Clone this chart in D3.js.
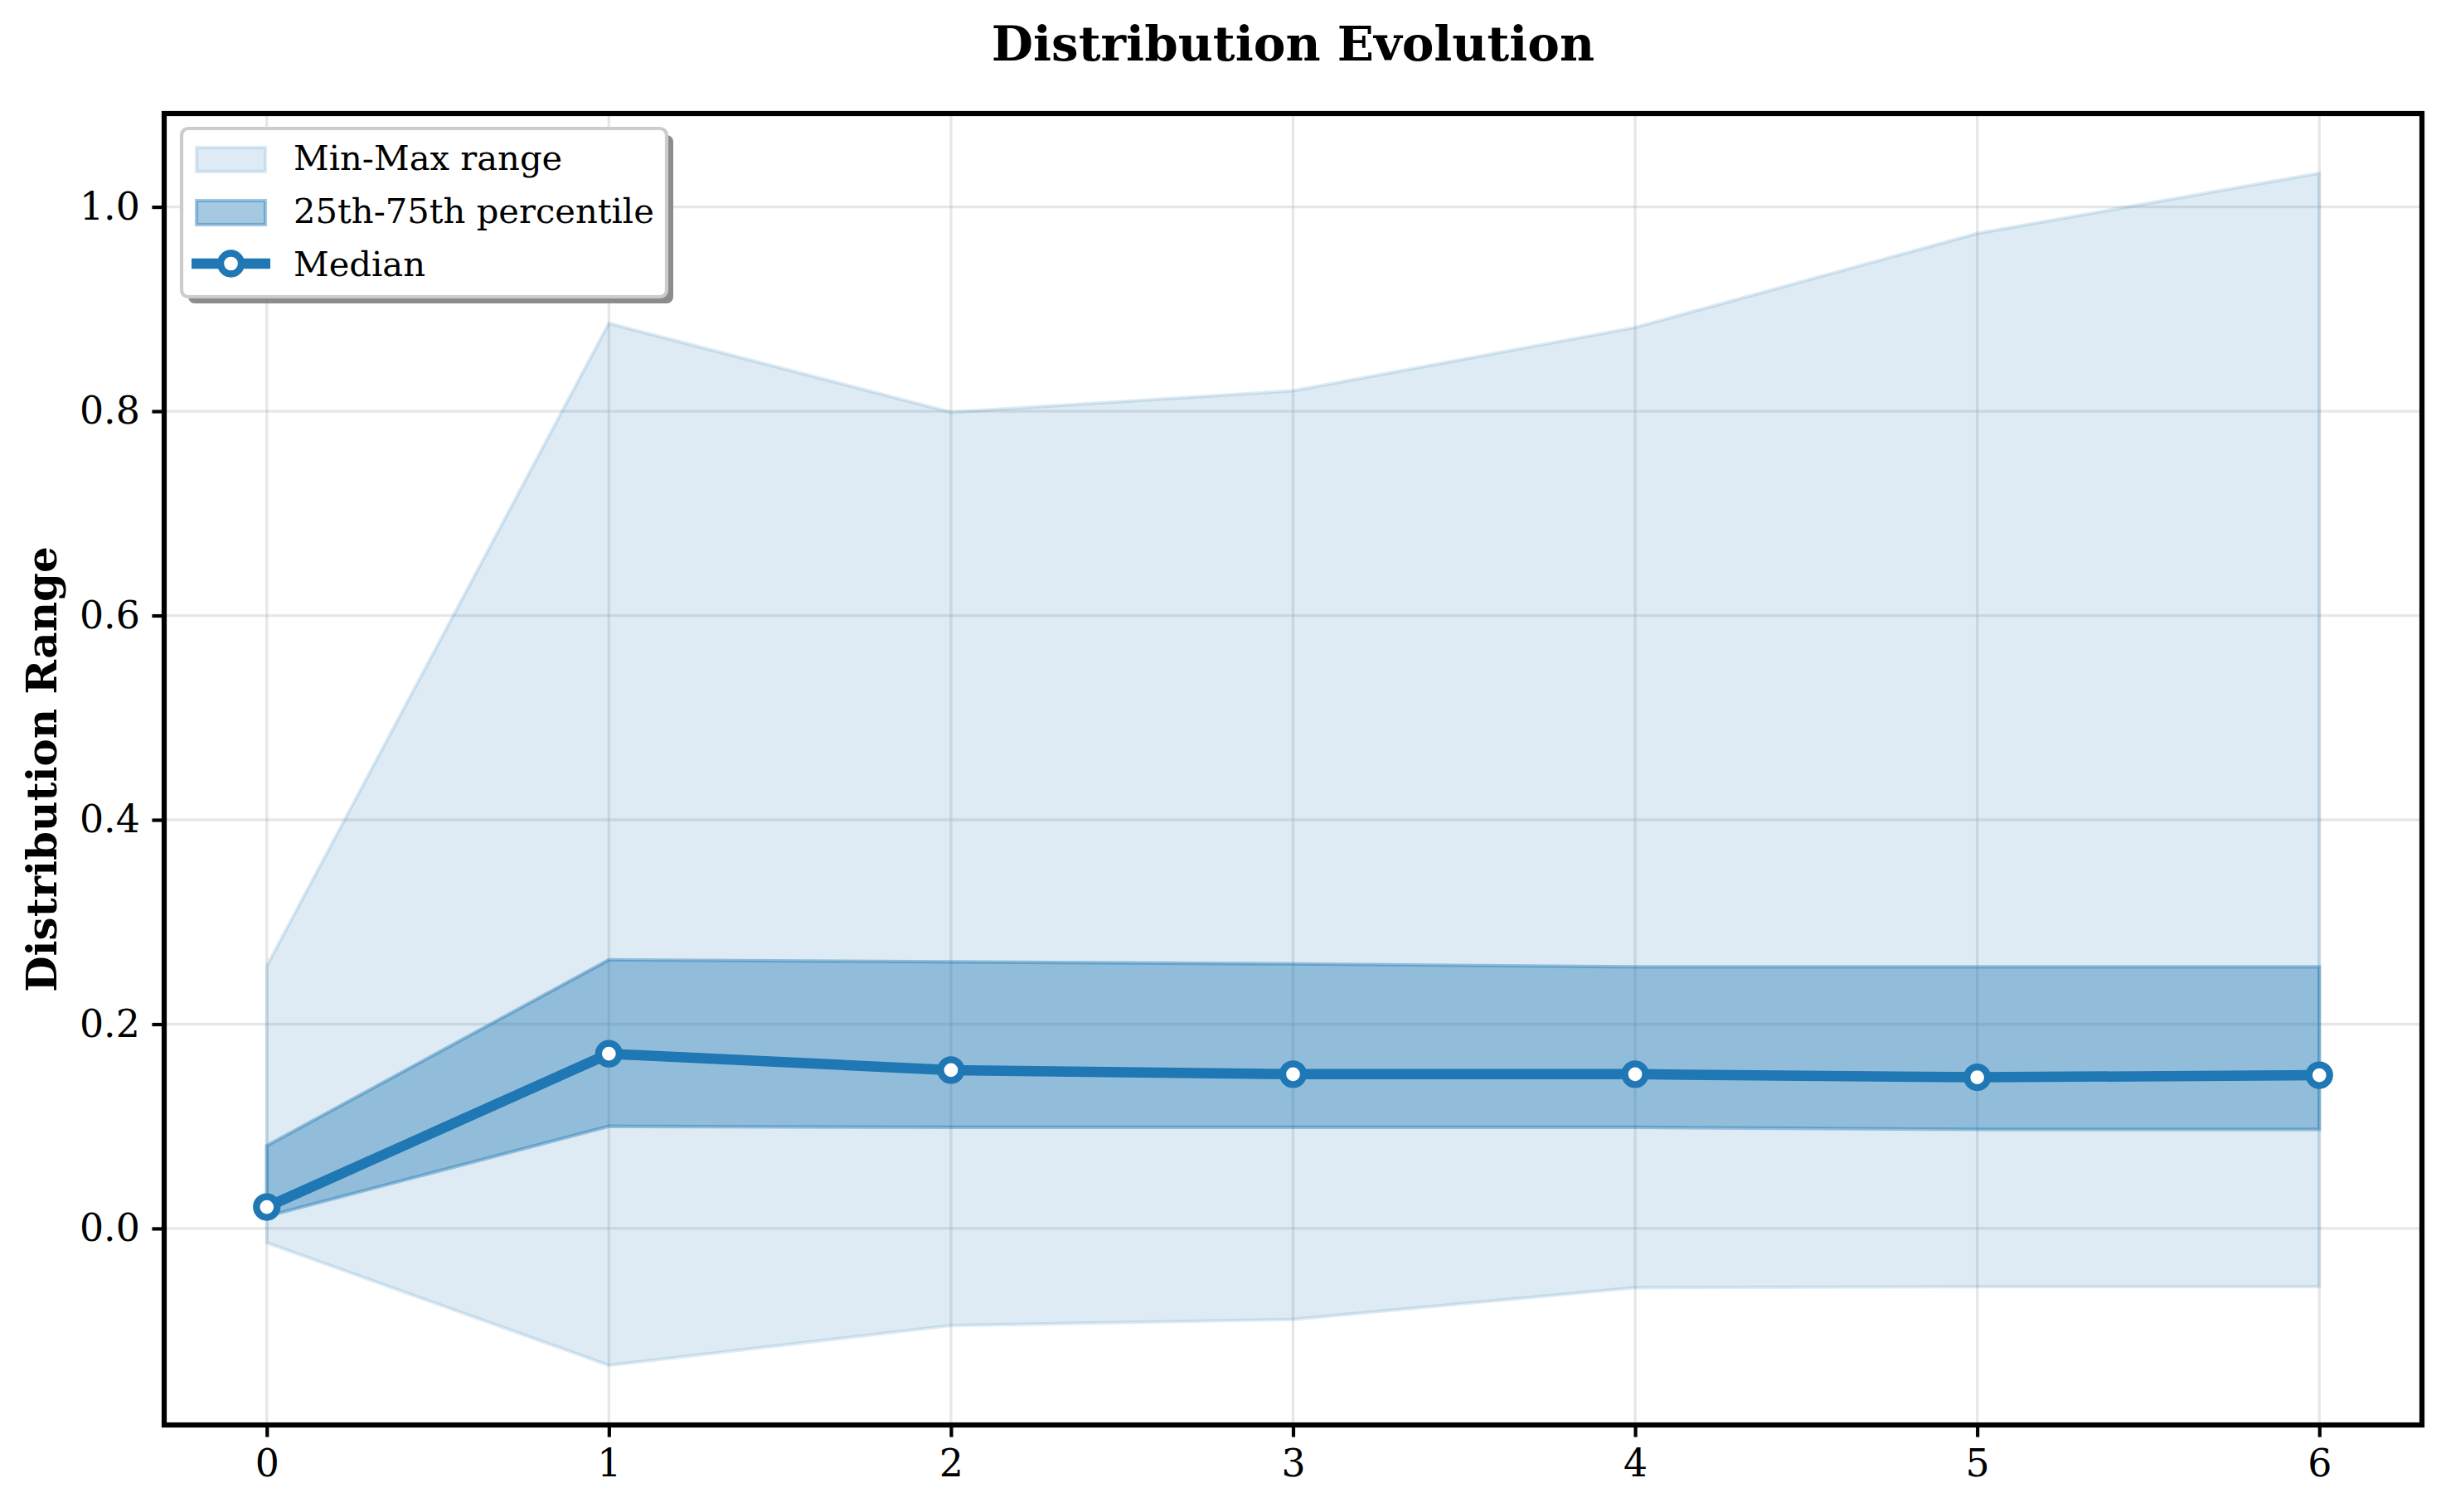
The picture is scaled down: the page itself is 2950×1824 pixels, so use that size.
<!DOCTYPE html>
<html>
<head>
<meta charset="utf-8">
<script src="https://cdn.jsdelivr.net/npm/d3@7"></script>
<style>
  body { margin: 0; background: #fff; }
  text { font-family: "DejaVu Serif", serif; }
</style>
</head>
<body>
<div id="chart"></div>
<script>
'use strict';

// values
var steps      = [0, 1, 2, 3, 4, 5, 6];
var minVals    = [-0.014, -0.134, -0.095, -0.089, -0.058, -0.057, -0.057];
var maxVals    = [0.257, 0.886, 0.799, 0.820, 0.882, 0.974, 1.033];
var q25Vals    = [0.012, 0.100, 0.099, 0.099, 0.099, 0.097, 0.097];
var q75Vals    = [0.081, 0.263, 0.261, 0.259, 0.256, 0.256, 0.256];
var medianVals = [0.021, 0.171, 0.155, 0.151, 0.151, 0.148, 0.150];
var yTicks     = [0.0, 0.2, 0.4, 0.6, 0.8, 1.0];
var legendLabels = ['Min-Max range', '25th-75th percentile', 'Median'];

var W = 2950, H = 1824;
var margins = {left: 198, right: 29, top: 137, bottom: 105};
var cw = W - margins.left - margins.right;
var ch = H - margins.top - margins.bottom;
var blue = '#1f77b4';

var rows = steps.map(function(s, i) {
    return {x: s, lo: minVals[i], hi: maxVals[i], q25: q25Vals[i], q75: q75Vals[i], med: medianVals[i]};
});

var svg = d3.select('#chart').append('svg')
    .attr('width', W)
    .attr('height', H)
    .style('background', '#fff');

// scales with matplotlib-style 5% margins
var xExt = d3.extent(steps);
var xPad = (xExt[1] - xExt[0]) * 0.05;
var xScale = d3.scaleLinear().domain([xExt[0] - xPad, xExt[1] + xPad]).range([0, cw]);

var yExt = [d3.min(minVals), d3.max(maxVals)];
var yPad = (yExt[1] - yExt[0]) * 0.05;
var yScale = d3.scaleLinear().domain([yExt[0] - yPad, yExt[1] + yPad]).range([ch, 0]);

var chart = svg.append('g')
    .attr('transform', 'translate(' + margins.left + ',' + margins.top + ')');

// grid
chart.append('g').selectAll('line').data(yTicks).enter().append('line')
    .attr('x1', 0).attr('x2', cw)
    .attr('y1', function(d) { return yScale(d); })
    .attr('y2', function(d) { return yScale(d); })
    .attr('stroke', '#b0b0b0').attr('stroke-opacity', 0.3).attr('stroke-width', 3.3);

chart.append('g').selectAll('line').data(steps).enter().append('line')
    .attr('y1', 0).attr('y2', ch)
    .attr('x1', function(d) { return xScale(d); })
    .attr('x2', function(d) { return xScale(d); })
    .attr('stroke', '#b0b0b0').attr('stroke-opacity', 0.3).attr('stroke-width', 3.3);

// bands
var outerArea = d3.area()
    .x(function(d) { return xScale(d.x); })
    .y0(function(d) { return yScale(d.lo); })
    .y1(function(d) { return yScale(d.hi); });

var innerArea = d3.area()
    .x(function(d) { return xScale(d.x); })
    .y0(function(d) { return yScale(d.q25); })
    .y1(function(d) { return yScale(d.q75); });

chart.append('path')
    .attr('d', outerArea(rows))
    .attr('fill', blue).attr('fill-opacity', 0.15)
    .attr('stroke', blue).attr('stroke-opacity', 0.15).attr('stroke-width', 4.2);

chart.append('path')
    .attr('d', innerArea(rows))
    .attr('fill', blue).attr('fill-opacity', 0.4)
    .attr('stroke', blue).attr('stroke-opacity', 0.4).attr('stroke-width', 4.2);

// median line
var line = d3.line()
    .x(function(d) { return xScale(d.x); })
    .y(function(d) { return yScale(d.med); });

chart.append('path')
    .attr('d', line(rows))
    .attr('fill', 'none')
    .attr('stroke', blue).attr('stroke-width', 12.5)
    .attr('stroke-linejoin', 'round');

chart.append('g').selectAll('circle').data(rows).enter().append('circle')
    .attr('cx', function(d) { return xScale(d.x); })
    .attr('cy', function(d) { return yScale(d.med); })
    .attr('r', 12.5)
    .attr('fill', '#fff')
    .attr('stroke', blue).attr('stroke-width', 8.3);

// axes
var xAxis = chart.append('g')
    .attr('transform', 'translate(0,' + ch + ')')
    .call(d3.axisBottom(xScale).tickValues(steps).tickFormat(d3.format('d')).tickSize(14.6).tickPadding(14.6));

var yAxis = chart.append('g')
    .call(d3.axisLeft(yScale).tickValues(yTicks).tickFormat(d3.format('.1f')).tickSize(14.6).tickPadding(14.6));

[xAxis, yAxis].forEach(function(a) {
    a.select('.domain').remove();
    a.selectAll('line').attr('stroke', '#000').attr('stroke-width', 4.2);
    a.selectAll('text')
        .attr('fill', '#000')
        .style('font-family', '"DejaVu Serif", serif')
        .style('font-size', '45.8px');
});

// frame
chart.append('rect')
    .attr('width', cw).attr('height', ch)
    .attr('fill', 'none').attr('stroke', '#000').attr('stroke-width', 6.2);

// title + y label
svg.append('text')
    .attr('x', margins.left + cw / 2)
    .attr('y', 73)
    .attr('text-anchor', 'middle')
    .style('font-size', '58px')
    .style('font-weight', 'bold')
    .text('Distribution Evolution');

svg.append('text')
    .attr('transform', 'translate(68,' + (margins.top + ch / 2) + ') rotate(-90)')
    .attr('text-anchor', 'middle')
    .style('font-size', '50px')
    .style('font-weight', 'bold')
    .text('Distribution Range');

// legend
var lg = svg.append('g').attr('transform', 'translate(219,155)');
var lw = 585, lh = 203;

lg.append('rect')
    .attr('x', 8).attr('y', 8).attr('width', lw).attr('height', lh)
    .attr('rx', 8).attr('fill', '#808080').attr('fill-opacity', 0.9);

lg.append('rect')
    .attr('width', lw).attr('height', lh).attr('rx', 8)
    .attr('fill', '#fff').attr('stroke', '#cccccc').attr('stroke-width', 4.2);

var entry = lg.selectAll('.entry').data(legendLabels).enter().append('g')
    .attr('class', 'entry')
    .attr('transform', function(d, i) { return 'translate(0,' + (i * 64) + ')'; });

entry.filter(function(d, i) { return i < 2; }).append('rect')
    .attr('x', 18).attr('y', 23).attr('width', 83).attr('height', 29)
    .attr('fill', blue)
    .attr('fill-opacity', function(d, i) { return i === 0 ? 0.15 : 0.4; })
    .attr('stroke', blue)
    .attr('stroke-opacity', function(d, i) { return i === 0 ? 0.15 : 0.4; })
    .attr('stroke-width', 4.2);

var medEntry = entry.filter(function(d, i) { return i === 2; });
medEntry.append('line')
    .attr('x1', 12).attr('x2', 107).attr('y1', 35).attr('y2', 35)
    .attr('stroke', blue).attr('stroke-width', 12.5);
medEntry.append('circle')
    .attr('cx', 59.5).attr('cy', 35).attr('r', 12.5)
    .attr('fill', '#fff').attr('stroke', blue).attr('stroke-width', 8.3);

entry.append('text')
    .attr('x', 135).attr('y', 50)
    .style('font-size', '41.7px')
    .text(function(d) { return d; });
</script>
</body>
</html>
